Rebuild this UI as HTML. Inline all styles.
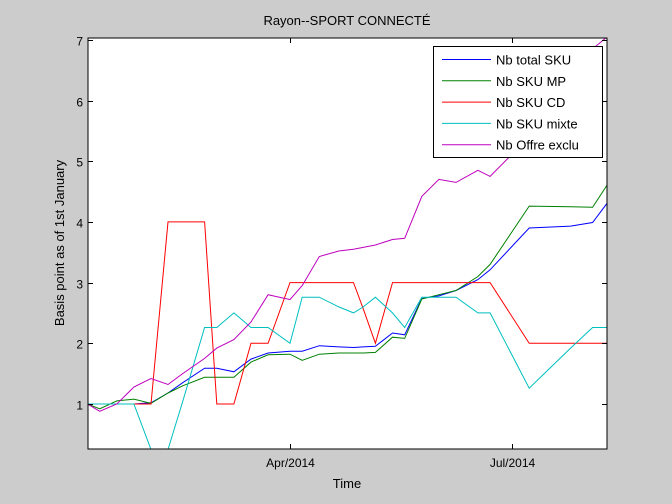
<!DOCTYPE html>
<html><head><meta charset="utf-8"><style>
body{margin:0;background:#ccc;}
svg{display:block;font-family:"Liberation Sans",sans-serif;}
</style></head><body>
<svg id="c" width="672" height="504">
<rect x="0" y="0" width="672" height="504" fill="#cccccc"/>
<rect x="88" y="38" width="519" height="411" fill="#fff"/>
<text x="347" y="25" text-anchor="middle" font-size="13">Rayon--SPORT CONNECTÉ</text>
<text x="347" y="488" text-anchor="middle" font-size="13">Time</text>
<text transform="translate(64,243) rotate(-90)" text-anchor="middle" font-size="13">Basis point as of 1st January</text>
<g id="marks"></g>
<rect x="88" y="38" width="519" height="411" fill="none" stroke="#000" stroke-width="1"/>
<g id="legend"></g>
</svg>
<script>
const days=[7,12,19,26,33,40,46,55,60,67,74,81,90,95,102,110,116,120,125,132,137,144,151,158,167,172,188,205,214,220];
const totalSku=[1,1,1,1,1.02,1.18,1.35,1.59,1.59,1.53,1.74,1.84,1.87,1.87,1.96,1.94,1.93,1.94,1.95,2.17,2.14,2.74,2.78,2.87,3.05,3.21,3.9,3.93,3.99,4.31];
const skuMp=[1,0.92,1.05,1.08,1.01,1.18,1.3,1.44,1.44,1.44,1.69,1.81,1.82,1.72,1.82,1.84,1.84,1.84,1.85,2.1,2.08,2.73,2.8,2.87,3.1,3.3,4.26,4.25,4.24,4.61];
const skuCd=[1,1,1,1,1,4,4,4,1,1,2,2,3,3,3,3,3,2.57,2,3,3,3,3,3,3,3,2,2,2,2];
const skuMixte=[1,1,1,1,0.25,0.25,1.04,2.26,2.26,2.5,2.26,2.26,2.0,2.76,2.76,2.6,2.5,2.6,2.76,2.5,2.26,2.76,2.76,2.76,2.5,2.5,1.26,1.92,2.26,2.26];
const offreExclu=[1,0.88,1.0,1.28,1.42,1.32,1.5,1.75,1.92,2.06,2.35,2.8,2.72,2.95,3.43,3.52,3.55,3.58,3.62,3.71,3.73,4.42,4.7,4.65,4.85,4.75,5.4,6.2,6.85,7.05];
const seriesNames=["Nb total SKU","Nb SKU MP","Nb SKU CD","Nb SKU mixte","Nb Offre exclu"];
const yTicks=[1,2,3,4,5,6,7];
const xTickDays=[90,181];
const xTickLabels=["Apr/2014","Jul/2014"];

const NS="http://www.w3.org/2000/svg";
const L=88,R=607,T=38,B=449;
const X0=7.2,X1=219.9,Y0=0.258,Y1=7.03;
const xs=d=>L+(d-X0)/(X1-X0)*(R-L);
const ys=v=>B-(v-Y0)/(Y1-Y0)*(B-T);
const svg=document.getElementById('c');
const marks=document.getElementById('marks');
const colors=["#0000ff","#008000","#ff0000","#00bfbf","#bf00bf"];
const keys=["total-sku","sku-mp","sku-cd","sku-mixte","offre-exclu"];
const all=[totalSku,skuMp,skuCd,skuMixte,offreExclu];

const cp=document.createElementNS(NS,'clipPath');cp.setAttribute('id','clip');
const cr=document.createElementNS(NS,'rect');cr.setAttribute('x',L);cr.setAttribute('y',T);cr.setAttribute('width',R-L);cr.setAttribute('height',B-T);
cp.appendChild(cr);svg.appendChild(cp);
marks.setAttribute('clip-path','url(#clip)');

all.forEach((vals,i)=>{
  const p=document.createElementNS(NS,'polyline');
  p.setAttribute('points',vals.map((v,j)=>xs(days[j]).toFixed(1)+','+ys(v).toFixed(1)).join(' '));
  p.setAttribute('fill','none');p.setAttribute('stroke',colors[i]);p.setAttribute('stroke-width','1');
  
  
  marks.appendChild(p);
});

function ln(x1,y1,x2,y2,name){
  const l=document.createElementNS(NS,'line');
  l.setAttribute('x1',x1);l.setAttribute('y1',y1);l.setAttribute('x2',x2);l.setAttribute('y2',y2);
  l.setAttribute('stroke','#000');
  
  
  svg.appendChild(l);
}
function tx(x,y,s,anchor,name){
  const t=document.createElementNS(NS,'text');
  t.setAttribute('x',x);t.setAttribute('y',y);t.setAttribute('text-anchor',anchor);t.setAttribute('font-size','12');
  t.textContent=s;
  
  
  svg.appendChild(t);
}
yTicks.forEach(v=>{
  const y=Math.round(ys(v))+0.5;
  ln(L,y,L+5,y,'y-tick');
  ln(R-5,y,R,y,'y-tick-right');
  tx(L-5,y+5,String(v),'end','y-tick-label');
});
xTickDays.forEach((d,i)=>{
  const x=Math.round(xs(d))+0.5;
  ln(x,B,x,B-5,'x-tick');
  ln(x,T,x,T+5,'x-tick-top');
  tx(x,B+18,xTickLabels[i],'middle','x-tick-label');
});

const lg=document.getElementById('legend');
const box=document.createElementNS(NS,'rect');
box.setAttribute('x',433.5);box.setAttribute('y',46.5);box.setAttribute('width',169);box.setAttribute('height',111);
box.setAttribute('fill','#fff');box.setAttribute('stroke','#000');


lg.appendChild(box);
seriesNames.forEach((n,i)=>{
  const y=59.5+i*21.3;
  const l=document.createElementNS(NS,'line');
  l.setAttribute('x1',442);l.setAttribute('x2',491);l.setAttribute('y1',y);l.setAttribute('y2',y);l.setAttribute('stroke',colors[i]);
  
  
  lg.appendChild(l);
  const t=document.createElementNS(NS,'text');
  t.setAttribute('x',496);t.setAttribute('y',y+5);t.setAttribute('font-size','13');t.textContent=n;
  
  
  lg.appendChild(t);
});
</script>
</body></html>
